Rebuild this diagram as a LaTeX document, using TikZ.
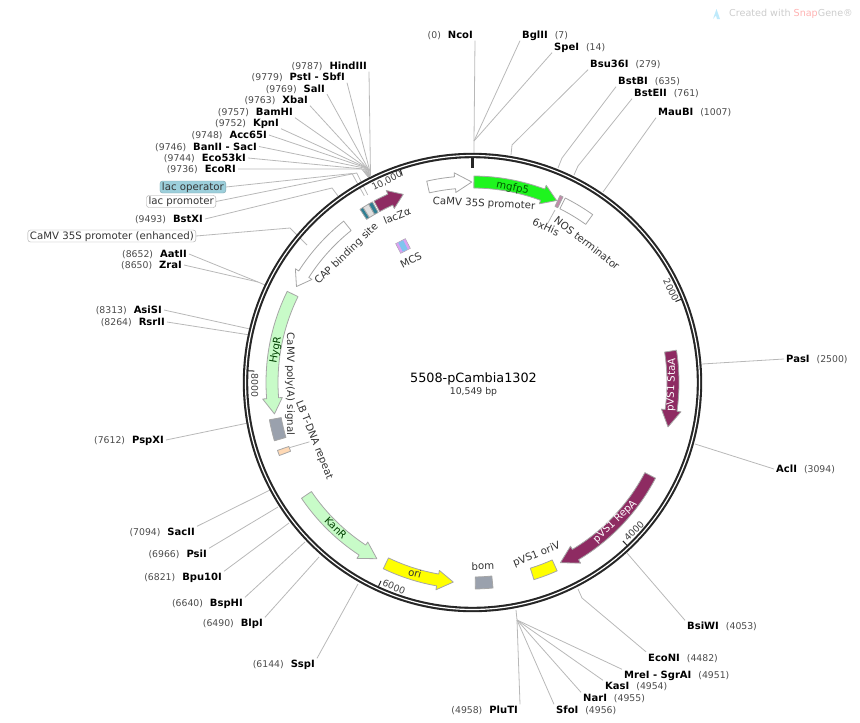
\documentclass[tikz,border=0pt]{standalone}
\usepackage{fontspec}
\setmainfont{DejaVu Sans}
\usetikzlibrary{positioning}

\definecolor{ringdark}{HTML}{262626}
\definecolor{leadergray}{HTML}{B8B8B8}
\definecolor{posgray}{HTML}{4A4A4A}
\definecolor{edgegray}{HTML}{A6A6A6}
\definecolor{repmagenta}{HTML}{8E2B62}
\definecolor{palegreen}{HTML}{C8FBC8}
\definecolor{gfpgreen}{HTML}{1EF51E}
\definecolor{oriyellow}{HTML}{FFFF00}
\definecolor{boxgray}{HTML}{9AA1AD}
\definecolor{lbtan}{HTML}{FFD9B5}
\definecolor{lacteal}{HTML}{2F7F93}
\definecolor{lacbox}{HTML}{9CCFDB}
\definecolor{mcspurple}{HTML}{D9A2F2}
\definecolor{mcsblue}{HTML}{7FC4EE}

\newcommand{\pn}[1]{{\fontsize{9.3}{11}\selectfont\mdseries\color{posgray}(#1)}}
\newcommand{\sitegap}{\hspace{7pt}}
% clockwise arrow: style, tail, head base, tip (degrees from the top)
\newcommand{\featarrow}[4]{%
    \draw[#1] (90-#2:206.5) arc[start angle=90-#2, end angle=90-#3, radius=206.5]
        -- (90-#3:210.5) -- (90-#4:200.5) -- (90-#3:190.8) -- (90-#3:194.5)
        arc[start angle=90-#3, end angle=90-#2, radius=194.5] -- cycle;}
\newcommand{\featrect}[3]{%
    \draw[#1] (90-#2:206.5) arc[start angle=90-#2, end angle=90-#3, radius=206.5]
        -- (90-#3:194.5) arc[start angle=90-#3, end angle=90-#2, radius=194.5] -- cycle;}

\begin{document}
\begin{tikzpicture}[
        x=1pt, y=-1pt,
        site/.style={
            inner xsep=2pt, inner ysep=1pt, text height=8pt, text depth=1pt,
            font=\fontsize{10}{12}\selectfont\bfseries, text=black
        },
        sitel/.style={site, anchor=east},
        siter/.style={site, anchor=west},
        leader/.style={draw=leadergray, line width=0.8pt},
        flabel/.style={inner sep=0pt, font=\fontsize{10.2}{12}\selectfont, text=black!80},
        ticklabel/.style={inner sep=0pt, font=\fontsize{9.3}{11}\selectfont, text=black!75},
        tagbox/.style={
            rectangle, draw=edgegray, rounded corners=2.5pt, inner xsep=2pt, inner ysep=1pt,
            font=\fontsize{10.2}{12}\selectfont, text=black!80, anchor=east,
            text height=8pt, text depth=2pt
        },
        feat/.style={draw=edgegray, line width=0.8pt, line join=round},
        ringscope/.style={shift={(472.5,382.5)}, y=1pt},
        tickmark/.style={draw=ringdark, line width=1pt}
    ]
    \useasboundingbox (0,0) rectangle (860,723);

    % Enzyme sites, upper left
    \node[sitel] (hindiii) at (369,66) {\pn{9787}\sitegap HindIII};
    \node[sitel] (pstI) at (347,77) {\pn{9779}\sitegap PstI - SbfI};
    \node[sitel] (salI) at (327,88.5) {\pn{9769}\sitegap SalI};
    \node[sitel] (xbaI) at (310,100) {\pn{9763}\sitegap XbaI};
    \node[sitel] (bamhI) at (295,112) {\pn{9757}\sitegap BamHI};
    \node[sitel] (kpnI) at (281,123) {\pn{9752}\sitegap KpnI};
    \node[sitel] (acc65I) at (269,135) {\pn{9748}\sitegap Acc65I};
    \node[sitel] (banII) at (259,146.5) {\pn{9746}\sitegap BanII - SacI};
    \node[sitel] (eco53kI) at (248,158) {\pn{9744}\sitegap Eco53kI};
    \node[sitel] (ecoRI) at (238,169) {\pn{9736}\sitegap EcoRI};
    \node[tagbox, fill=lacbox, draw=lacbox!80!black] (lacop) at (226,187) {lac operator};
    \node[tagbox, fill=white] (lacpro) at (216,201.5) {lac promoter};
    \node[sitel] (bstXI) at (205,219) {\pn{9493}\sitegap BstXI};
    \node[tagbox, fill=white] (enh) at (196,236) {CaMV 35S promoter (enhanced)};
    \node[sitel] (aatII) at (189,254) {\pn{8652}\sitegap AatII};
    \node[sitel] (zraI) at (184,265) {\pn{8650}\sitegap ZraI};

    % Enzyme sites, left and lower left
    \node[sitel] (asiSI) at (164,310) {\pn{8313}\sitegap AsiSI};
    \node[sitel] (rsrII) at (167,322) {\pn{8264}\sitegap RsrII};
    \node[sitel] (pspXI) at (166,440) {\pn{7612}\sitegap PspXI};
    \node[sitel] (sacII) at (197,532) {\pn{7094}\sitegap SacII};
    \node[sitel] (psiI) at (209,554) {\pn{6966}\sitegap PsiI};
    \node[sitel] (bpu10I) at (224,577) {\pn{6821}\sitegap Bpu10I};
    \node[sitel] (bsphI) at (245,603) {\pn{6640}\sitegap BspHI};
    \node[sitel] (blpI) at (265,623) {\pn{6490}\sitegap BlpI};
    \node[sitel] (sspI) at (317,664) {\pn{6144}\sitegap SspI};

    % Enzyme sites, bottom
    \node[sitel] (pluTI) at (520,710) {\pn{4958}\sitegap PluTI};
    \node[siter] (sfoI) at (554,710) {SfoI\sitegap \pn{4956}};
    \node[siter] (narI) at (581,698) {NarI\sitegap \pn{4955}};
    \node[siter] (kasI) at (603,686) {KasI\sitegap \pn{4954}};
    \node[siter] (mreI) at (622,675) {MreI - SgrAI\sitegap \pn{4951}};
    \node[siter] (ecoNI) at (646,657.5) {EcoNI\sitegap \pn{4482}};
    \node[siter] (bsiWI) at (685,626) {BsiWI\sitegap \pn{4053}};

    % Enzyme sites, right and top
    \node[siter] (aclI) at (774,469) {AclI\sitegap \pn{3094}};
    \node[siter] (pasI) at (784,359) {PasI\sitegap \pn{2500}};
    \node[sitel] (ncoI) at (475,35) {\pn{0}\sitegap NcoI};
    \node[siter] (bglII) at (520,35) {BglII\sitegap \pn{7}};
    \node[siter] (speI) at (552,47) {SpeI\sitegap \pn{14}};
    \node[siter] (bsu36I) at (588,64) {Bsu36I\sitegap \pn{279}};
    \node[siter] (bstBI) at (616,81) {BstBI\sitegap \pn{635}};
    \node[siter] (bstEII) at (632,93) {BstEII\sitegap \pn{761}};
    \node[siter] (mauBI) at (656,112) {MauBI\sitegap \pn{1007}};

    % Bends and ends of the leaders
    \coordinate (ringul) at (369,178);
    \coordinate (hindiiib) at (370.5,175);
    \coordinate (pstIb) at (370,171.7);
    \coordinate (salIb) at (369.3,170.7);
    \coordinate (xbaIb) at (368.3,169.3);
    \coordinate (bamhIb) at (367.3,168.3);
    \coordinate (kpnIb) at (366,167.5);
    \coordinate (acc65Ib) at (365,167.5);
    \coordinate (banIIb) at (364,168);
    \coordinate (eco53kIb) at (363,169);
    \coordinate (ecoRIb) at (361.7,169);
    \coordinate (lacopb) at (352,173.5);
    \coordinate (lacope) at (364.3,195.7);
    \coordinate (lacprob) at (356.7,173);
    \coordinate (lacproe) at (367.7,195);
    \coordinate (bstXIb) at (332,188);
    \coordinate (bstXIe) at (338,196);
    \coordinate (enhb) at (290,228);
    \coordinate (enhe) at (307,245);
    \coordinate (aatz) at (258,282);
    \coordinate (aatze) at (265,285);
    \coordinate (asiSIe) at (250,329);
    \coordinate (rsrIIe) at (250,335);
    \coordinate (pspXIe) at (248,423);
    \coordinate (sacIIe) at (270,490);
    \coordinate (psiIe) at (278,507);
    \coordinate (bpu10Ie) at (289,523);
    \coordinate (bsphIe) at (305,542);
    \coordinate (blpIe) at (319,557);
    \coordinate (sspIe) at (358,584);
    \coordinate (fanb) at (517,620);
    \coordinate (ringb) at (516,610);
    \coordinate (ecoNIb) at (582,598);
    \coordinate (ecoNIe) at (578,589);
    \coordinate (bsiWIe) at (627,553);
    \coordinate (aclIe) at (695,444);
    \coordinate (pasIe) at (702,364);
    \coordinate (fant) at (474,141);
    \coordinate (ringt) at (474,153);
    \coordinate (bsu36Ib) at (512,145);
    \coordinate (bsu36Ie) at (511,155);
    \coordinate (bstBIb) at (562,158);
    \coordinate (bstBIe) at (558,168);
    \coordinate (bstEIIb) at (578,166);
    \coordinate (bstEIIe) at (574,175);
    \coordinate (mauBIe) at (603,192);

    % Leaders
    \draw[leader] (hindiii.south east) -- (hindiiib) -- (ringul);
    \draw[leader] (pstI.south east) -- (pstIb) -- (ringul);
    \draw[leader] (salI.south east) -- (salIb) -- (ringul);
    \draw[leader] (xbaI.south east) -- (xbaIb) -- (ringul);
    \draw[leader] (bamhI.south east) -- (bamhIb) -- (ringul);
    \draw[leader] (kpnI.south east) -- (kpnIb) -- (ringul);
    \draw[leader] (acc65I.east) -- (acc65Ib) -- (ringul);
    \draw[leader] (banII.east) -- (banIIb) -- (ringul);
    \draw[leader] (eco53kI.east) -- (eco53kIb) -- (ringul);
    \draw[leader] (ecoRI.east) -- (ecoRIb) -- (ringul);
    \draw[leader] (lacop.east) -- (lacopb) -- (lacope);
    \draw[leader] (lacpro.east) -- (lacprob) -- (lacproe);
    \draw[leader] (bstXI.east) -- (bstXIb) -- (bstXIe);
    \draw[leader] (enh.east) -- (enhb) -- (enhe);
    \draw[leader] (aatII.east) -- (aatz) -- (aatze);
    \draw[leader] (zraI.east) -- (aatz);
    \draw[leader] (asiSI.east) -- (asiSIe);
    \draw[leader] (rsrII.east) -- (rsrIIe);
    \draw[leader] (pspXI.east) -- (pspXIe);
    \draw[leader] (sacII.north east) -- (sacIIe);
    \draw[leader] (psiI.north east) -- (psiIe);
    \draw[leader] (bpu10I.north east) -- (bpu10Ie);
    \draw[leader] (bsphI.north east) -- (bsphIe);
    \draw[leader] (blpI.north east) -- (blpIe);
    \draw[leader] (sspI.north east) -- (sspIe);
    \draw[leader] (pluTI.north east) -- (fanb) -- (ringb);
    \draw[leader] (sfoI.north west) -- (fanb);
    \draw[leader] (narI.north west) -- (fanb);
    \draw[leader] (kasI.north west) -- (fanb);
    \draw[leader] (mreI.north west) -- (fanb);
    \draw[leader] (ecoNI.north west) -- (ecoNIb) -- (ecoNIe);
    \draw[leader] (bsiWI.north west) -- (bsiWIe);
    \draw[leader] (aclI.west) -- (aclIe);
    \draw[leader] (pasI.west) -- (pasIe);
    \draw[leader] (ncoI.south east) -- (fant) -- (ringt);
    \draw[leader] (bglII.south west) -- (fant);
    \draw[leader] (speI.south west) -- (fant);
    \draw[leader] (bsu36I.south west) -- (bsu36Ib) -- (bsu36Ie);
    \draw[leader] (bstBI.south west) -- (bstBIb) -- (bstBIe);
    \draw[leader] (bstEII.south west) -- (bstEIIb) -- (bstEIIe);
    \draw[leader] (mauBI.south west) -- (mauBIe);

    % Backbone, ticks and features
    \begin{scope}[ringscope]
        \draw[draw=ringdark, line width=2.1pt, double=white, double distance=1.2pt] (0,0) circle[radius=227];
        \draw[draw=ringdark, line width=2.5pt] (90:225) -- (90:214.5);
        \draw[tickmark] (90-68.25:225) -- (90-68.25:218.5);
        \draw[tickmark] (90-136.5:225) -- (90-136.5:218.5);
        \draw[tickmark] (90-204.75:225) -- (90-204.75:218.5);
        \draw[tickmark] (90-273:225) -- (90-273:218.5);
        \draw[tickmark] (90-341.26:225) -- (90-341.26:218.5);

        \featarrow{feat, fill=white}{-12.8}{-5}{-0.2}
        \featarrow{feat, fill=gfpgreen}{0.4}{20.5}{24.8}
        \featrect{feat, fill=repmagenta!55, draw=edgegray}{25.1}{26}
        \featrect{feat, fill=white}{26.7}{35.6}
        \featarrow{feat, fill=repmagenta}{81}{98}{102.8}
        \featarrow{feat, fill=repmagenta}{117.6}{149.1}{154}
        \featrect{feat, fill=oriyellow}{155.8}{162.7}
        \featrect{feat, fill=boxgray}{174.3}{179.2}
        \featarrow{feat, fill=oriyellow}{205.6}{190}{185.5}
        \featarrow{feat, fill=palegreen}{235.9}{213.3}{208.5}
        \featrect{feat, fill=lbtan}{249.3}{250.8}
        \featrect{feat, fill=boxgray}{253.6}{259.6}
        \featarrow{feat, fill=palegreen}{296.2}{265.5}{261}
        \featarrow{feat, fill=white}{321.4}{302.7}{298.6}
        \featrect{feat, fill=lacteal}{327}{328}
        \featrect{feat, fill=black!12, draw=edgegray}{328}{329.8}
        \featrect{feat, fill=lacteal}{329.8}{331}
        \featarrow{feat, fill=repmagenta}{331.5}{335.8}{339.8}
    \end{scope}

    % MCS block
    \node[draw=edgegray, fill=mcspurple, minimum width=11pt, minimum height=11pt, inner sep=0pt, rotate=27] (mcs) at (403,246) {};
    \node[fill=mcsblue, minimum width=5.5pt, minimum height=10pt, inner sep=0pt, rotate=27] (mcsin) at (mcs.center) {};

    % Leader of the 6xHis and LB labels
    \node[flabel, rotate=-25] (his) at (546,227) {6xHis};
    \coordinate (hise) at (555,210);
    \draw[leader] (his.north) -- (hise);
    \node[flabel, rotate=-68] (lb) at (314,440) {LB T-DNA repeat};
    \coordinate (lbe) at (290,447.5);
    \draw[leader] (lb.south) -- (lbe);

    % Feature labels
    \node[flabel, rotate=-3] (camv) at (484,204) {CaMV 35S promoter};
    \node[flabel, rotate=-12, text=green!35!black] (gfp) at (512.7,187.7) {mgfp5};
    \node[flabel, rotate=-38] (nos) at (587,243) {NOS terminator};
    \node[flabel, rotate=88, text=white] (stal) at (671.7,385) {pVS1 StaA};
    \node[flabel, rotate=44, text=white] (repl) at (615,521.7) {pVS1 RepA};
    \node[flabel, rotate=22] (oriv) at (536.7,555) {pVS1 oriV};
    \node[flabel, rotate=1] (boml) at (483,566) {bom};
    \node[flabel, rotate=-15] (oril) at (415,573.3) {ori};
    \node[flabel, rotate=-45, text=green!25!black] (kanl) at (335.7,528) {KanR};
    \node[flabel, rotate=-90] (polya) at (290,384) {CaMV poly(A) signal};
    \node[flabel, rotate=80, text=green!25!black] (hygl) at (276,350) {HygR};
    \node[flabel, rotate=44] (capl) at (346.7,254) {CAP binding site};
    \node[flabel, rotate=22] (lacz) at (397,216) {lacZα};
    \node[flabel, rotate=27] (mcsl) at (411,260) {MCS};

    % Tick labels
    \node[ticklabel, rotate=-64] (t2000) at (671,290) {2000};
    \node[ticklabel, rotate=45] (t4000) at (634,531) {4000};
    \node[ticklabel, rotate=-22] (t6000) at (394,587) {6000};
    \node[ticklabel, rotate=-90] (t8000) at (254.7,385.7) {8000};
    \node[ticklabel, rotate=27] (t10000) at (387,181) {10,000};

    % Centre title
    \node[inner sep=0pt, font=\fontsize{12.8}{15}\selectfont] (title) at (473.5,379) {5508-pCambia1302};
    \node[inner sep=0pt, font=\fontsize{9.3}{11}\selectfont, text=black!80, below=2pt of title] (size) {10,549 bp};

    % Watermark
    \fill[cyan!25] (713,19) -- (716.5,9) -- (720,19) -- (717,19) -- (716,15.5) -- cycle;
    \node[inner sep=0pt, anchor=west, font=\fontsize{9.6}{12}\selectfont, text=black!20] (mark) at (729,14) {Created with \textcolor{red!30}{Snap}Gene®};
\end{tikzpicture}
\end{document}
